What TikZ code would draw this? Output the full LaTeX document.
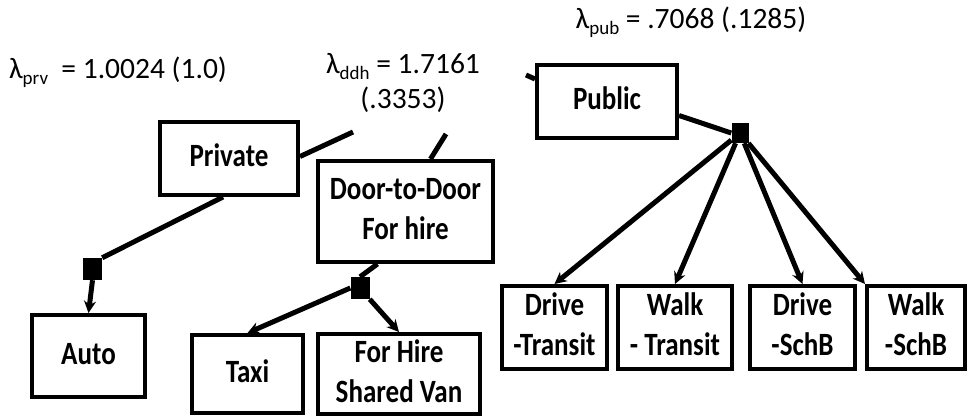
\documentclass[tikz,border=0pt]{standalone}
\usepackage{fontspec}
\usepackage{graphicx}
\setmainfont{Carlito}
\usetikzlibrary{arrows.meta}
\newcommand{\lsub}[1]{\raisebox{-0.4ex}{\fontsize{19}{19}\selectfont #1}}
\newcommand{\bx}[1]{\scalebox{1.04}[1.25]{\begin{tabular}{@{}c@{}}#1\end{tabular}}}
\tikzset{
  box/.style={draw, line width=4pt, inner sep=0pt, align=center,
    font=\fontsize{26}{32}\selectfont\bfseries},
  lab/.style={inner sep=0pt, align=center, font=\fontsize{29.5}{35}\selectfont},
  conn/.style={line width=5pt},
  arr/.style={line width=5pt, -{Stealth[length=12pt,width=12pt]}},
  knot/.style={fill=black, inner sep=0pt, minimum width=19pt, minimum height=22pt}
}
\begin{document}
\begin{tikzpicture}[x=1pt,y=-1pt]
\useasboundingbox (0,0) rectangle (969,415);
% boxes
\node[box, minimum width=138pt, minimum height=73pt] (prv) at (229,158.5) {\bx{Private}};
\node[box, minimum width=175pt, minimum height=101pt] (ddh) at (405.5,211.5) {\bx{Door-to-Door\\For hire}};
\node[box, minimum width=113pt, minimum height=82pt] (auto) at (88.5,356) {\bx{Auto}};
\node[box, minimum width=111pt, minimum height=78pt] (taxi) at (247.5,374) {\bx{Taxi}};
\node[box, minimum width=162pt, minimum height=78pt] (van) at (399,374) {\bx{For Hire\\Shared Van}};
\node[box, minimum width=140pt, minimum height=73pt] (pub) at (607,101.5) {\bx{Public}};
\node[box, minimum width=105pt, minimum height=83pt] (dt) at (554.5,327.5) {\bx{Drive\\-Transit}};
\node[box, minimum width=114pt, minimum height=83pt] (wt) at (675,327.5) {\bx{Walk\\- Transit}};
\node[box, minimum width=105pt, minimum height=83pt] (ds) at (802.5,327.5) {\bx{Drive\\-SchB}};
\node[box, minimum width=98pt, minimum height=83pt] (ws) at (916,327.5) {\bx{Walk\\-SchB}};
% knots
\node[knot] (k1) at (92.5,269) {};
\node[knot] (k2) at (360,288) {};
\node[knot, minimum width=17pt, minimum height=20pt] (k3) at (740,133) {};
% labels
\node[lab] (lprv) at (118,72) {λ\lsub{prv}\ \ = 1.0024 (1.0)};
\node[lab] (lddh) at (403,83) {λ\lsub{ddh} = 1.7161\\(.3353)};
\node[lab] (lpub) at (691,22) {λ\lsub{pub} = .7068 (.1285)};
% free ends
\coordinate (s1) at (353,132);
\coordinate (s2) at (446,134);
\coordinate (s3) at (526,75);
% stubs
\draw[conn] (prv.east) ++(0,-2) coordinate (pe) -- (s1);
\draw[conn] (ddh.north) ++(25,0) coordinate (de) -- (s2);
\draw[conn] (s3) -- (pub.west |- 0,79);
% connectors
\draw[conn] (prv.south) ++(-6,0) coordinate (ps) -- (k1.north east);
\draw[arr] (k1.south) -- (auto.north);
\draw[conn] (ddh.south) ++(-28,0) coordinate (ds0) -- (k2.north);
\draw[arr] (k2.west) -- (taxi.north);
\draw[arr] (k2.south east) -- (van.north);
\draw[conn] (pub.east) ++(0,14) coordinate (pbe) -- (k3.west);
\draw[arr] (k3) -- (dt.north);
\draw[arr] (k3) -- (wt.north);
\draw[arr] (k3) -- (ds.north);
\draw[arr] (k3) -- (ws.north west);
\end{tikzpicture}
\end{document}
